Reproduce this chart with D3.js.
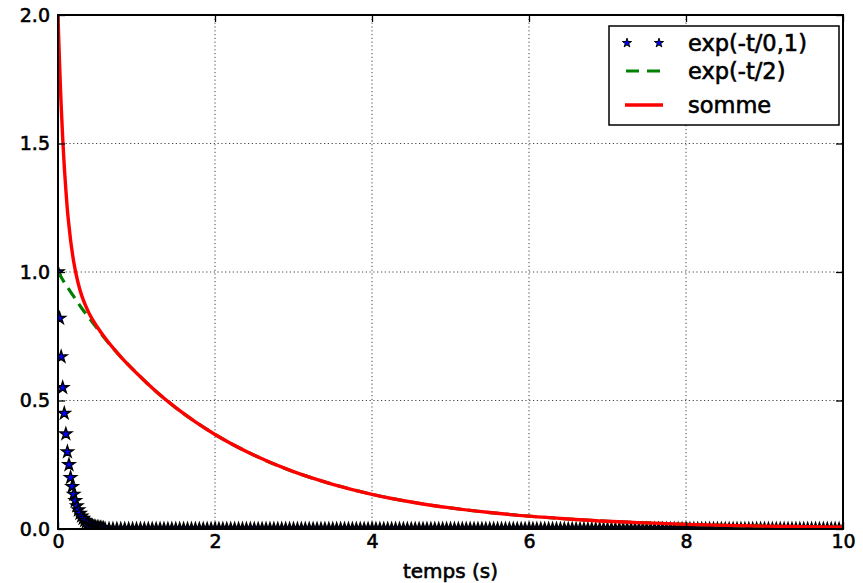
<!DOCTYPE html>
<html>
<head>
<meta charset="utf-8">
<script src="https://cdn.jsdelivr.net/npm/d3@7"></script>
<style>
  body { margin: 0; background: #fff; }
  svg text { font-family: "DejaVu Sans", sans-serif; fill: #000; stroke: #000; stroke-width: 0.6px; }
</style>
</head>
<body>
<div id="chart"></div>
<script>
// exp(-t/0,1) stars: the decaying part
const starT = [0, 0.02, 0.04, 0.06, 0.08, 0.1, 0.12, 0.14, 0.16, 0.18, 0.2, 0.22, 0.24, 0.26, 0.28,
  0.3, 0.32, 0.34, 0.36, 0.38, 0.4, 0.42, 0.44, 0.46, 0.48, 0.5, 0.52, 0.54, 0.56, 0.58];
const starY = [1.0, 0.82, 0.67, 0.55, 0.45, 0.37, 0.30, 0.25, 0.20, 0.165, 0.135, 0.11, 0.09, 0.074, 0.061,
  0.05, 0.041, 0.033, 0.027, 0.022, 0.018, 0.015, 0.012, 0.01, 0.008, 0.007, 0.006, 0.005, 0.004, 0.003];
// the rest of the stars all sit on 0.0
const starTailT = [0.6, 0.65, 0.7, 0.75, 0.8, 0.85, 0.9, 0.95, 1,
  1.05, 1.1, 1.15, 1.2, 1.25, 1.3, 1.35, 1.4, 1.45, 1.5, 1.55, 1.6, 1.65, 1.7, 1.75, 1.8, 1.85, 1.9, 1.95, 2,
  2.05, 2.1, 2.15, 2.2, 2.25, 2.3, 2.35, 2.4, 2.45, 2.5, 2.55, 2.6, 2.65, 2.7, 2.75, 2.8, 2.85, 2.9, 2.95, 3,
  3.05, 3.1, 3.15, 3.2, 3.25, 3.3, 3.35, 3.4, 3.45, 3.5, 3.55, 3.6, 3.65, 3.7, 3.75, 3.8, 3.85, 3.9, 3.95, 4,
  4.05, 4.1, 4.15, 4.2, 4.25, 4.3, 4.35, 4.4, 4.45, 4.5, 4.55, 4.6, 4.65, 4.7, 4.75, 4.8, 4.85, 4.9, 4.95, 5,
  5.05, 5.1, 5.15, 5.2, 5.25, 5.3, 5.35, 5.4, 5.45, 5.5, 5.55, 5.6, 5.65, 5.7, 5.75, 5.8, 5.85, 5.9, 5.95, 6,
  6.05, 6.1, 6.15, 6.2, 6.25, 6.3, 6.35, 6.4, 6.45, 6.5, 6.55, 6.6, 6.65, 6.7, 6.75, 6.8, 6.85, 6.9, 6.95, 7,
  7.05, 7.1, 7.15, 7.2, 7.25, 7.3, 7.35, 7.4, 7.45, 7.5, 7.55, 7.6, 7.65, 7.7, 7.75, 7.8, 7.85, 7.9, 7.95, 8,
  8.05, 8.1, 8.15, 8.2, 8.25, 8.3, 8.35, 8.4, 8.45, 8.5, 8.55, 8.6, 8.65, 8.7, 8.75, 8.8, 8.85, 8.9, 8.95, 9,
  9.05, 9.1, 9.15, 9.2, 9.25, 9.3, 9.35, 9.4, 9.45, 9.5, 9.55, 9.6, 9.65, 9.7, 9.75, 9.8, 9.85, 9.9, 9.95, 10];

// exp(-t/2) dashed
const slowT = [0, 0.1, 0.2, 0.3, 0.4, 0.5, 0.6, 0.8, 1, 1.25, 1.5, 1.75, 2, 2.5, 3, 3.5, 4, 4.5,
  5, 5.5, 6, 6.5, 7, 7.5, 8, 8.5, 9, 9.5, 10];
const slowY = [1.0, 0.95, 0.905, 0.86, 0.82, 0.78, 0.74, 0.67, 0.607, 0.535, 0.472, 0.417, 0.368, 0.287,
  0.223, 0.174, 0.135, 0.105, 0.082, 0.064, 0.05, 0.039, 0.03, 0.024, 0.018, 0.014, 0.011, 0.009, 0.007];

// somme
const sumT = [0, 0.01, 0.02, 0.03, 0.04, 0.06, 0.08, 0.1, 0.12, 0.14, 0.16, 0.18, 0.2, 0.25, 0.3, 0.35,
  0.4, 0.5, 0.6, 0.8, 1, 1.25, 1.5, 1.75, 2, 2.5, 3, 3.5, 4, 4.5, 5, 5.5, 6, 6.5, 7, 7.5, 8, 8.5, 9, 9.5, 10];
const sumY = [2.0, 1.90, 1.81, 1.726, 1.65, 1.52, 1.41, 1.32, 1.24, 1.18, 1.125, 1.08, 1.04, 0.965, 0.91, 0.87,
  0.837, 0.786, 0.743, 0.67, 0.607, 0.535, 0.472, 0.417, 0.368, 0.287, 0.223, 0.174, 0.135, 0.105,
  0.082, 0.064, 0.05, 0.039, 0.03, 0.024, 0.018, 0.014, 0.011, 0.009, 0.007];

const xTicks = [0, 2, 4, 6, 8, 10];
const yTicks = [0, 0.5, 1.0, 1.5, 2.0];
const legendLabels = ["exp(-t/0,1)", "exp(-t/2)", "somme"];

const W = 863, H = 583;
const margin = { top: 15, right: 20, bottom: 54, left: 58 },
    width = W - margin.left - margin.right,
    height = H - margin.top - margin.bottom;

const svg = d3.select("#chart").append("svg")
    .attr("width", W).attr("height", H);

const g = svg.append("g")
    .attr("transform", "translate(" + margin.left + "," + margin.top + ")");

const x = d3.scaleLinear().domain([0, 10]).range([0, width]);
const y = d3.scaleLinear().domain([0, 2]).range([height, 0]);

g.append("clipPath").attr("id", "clip")
  .append("rect").attr("width", width).attr("height", height);

// grid, dotted
g.append("g").selectAll("line").data(xTicks.slice(1, -1)).enter().append("line")
    .attr("x1", d => x(d)).attr("x2", d => x(d)).attr("y1", 0).attr("y2", height)
    .attr("stroke", "#444").attr("stroke-width", 1).attr("stroke-dasharray", "1.2,2.6");
g.append("g").selectAll("line").data(yTicks.slice(1, -1)).enter().append("line")
    .attr("y1", d => y(d)).attr("y2", d => y(d)).attr("x1", 0).attr("x2", width)
    .attr("stroke", "#444").attr("stroke-width", 1).attr("stroke-dasharray", "1.2,2.6");

const plot = g.append("g").attr("clip-path", "url(#clip)");

// stars
const star = d3.symbol().type(d3.symbolStar).size(44);
const starPts = starT.map((t, i) => [t, starY[i]]).concat(starTailT.map(t => [t, 0]));
plot.append("g").selectAll("path").data(starPts).enter().append("path")
    .attr("d", star)
    .attr("transform", d => "translate(" + x(d[0]) + "," + y(d[1]) + ")")
    .attr("fill", "#0000ff").attr("stroke", "#000").attr("stroke-width", 1.4);

const line = d3.line().x(d => x(d[0])).y(d => y(d[1])).curve(d3.curveMonotoneX);

plot.append("path")
    .datum(slowT.map((t, i) => [t, slowY[i]]))
    .attr("d", line).attr("fill", "none")
    .attr("stroke", "#008000").attr("stroke-width", 3.2).attr("stroke-dasharray", "12,7");

plot.append("path")
    .datum(sumT.map((t, i) => [t, sumY[i]]))
    .attr("d", line).attr("fill", "none")
    .attr("stroke", "#ff0000").attr("stroke-width", 3.4);

// axes with inward ticks on all four sides
const tickLen = 7;
g.append("g").attr("transform", "translate(0," + height + ")")
    .call(d3.axisBottom(x).tickValues(xTicks).tickFormat(d3.format("d")).tickSizeInner(-tickLen).tickSizeOuter(0).tickPadding(6));
g.append("g")
    .call(d3.axisTop(x).tickValues(xTicks).tickFormat("").tickSizeInner(-tickLen).tickSizeOuter(0));
g.append("g")
    .call(d3.axisLeft(y).tickValues(yTicks).tickFormat(d3.format(".1f")).tickSizeInner(-tickLen).tickSizeOuter(0).tickPadding(8));
g.append("g").attr("transform", "translate(" + width + ",0)")
    .call(d3.axisRight(y).tickValues(yTicks).tickFormat("").tickSizeInner(-tickLen).tickSizeOuter(0));

g.selectAll(".domain").remove();
g.selectAll(".tick line").attr("stroke", "#000").attr("stroke-width", 1.3);
g.selectAll(".tick text").style("font-size", "19px");

g.append("rect").attr("width", width).attr("height", height)
    .attr("fill", "none").attr("stroke", "#000").attr("stroke-width", 2);

// x label
svg.append("text")
    .attr("x", margin.left + width / 2).attr("y", 578)
    .attr("text-anchor", "middle").style("font-size", "20px")
    .text("temps (s)");

// legend
const lg = svg.append("g").attr("transform", "translate(609,26)");
lg.append("rect").attr("width", 230).attr("height", 99)
    .attr("fill", "#fff").attr("stroke", "#000").attr("stroke-width", 1.5);
const rowY = [17, 45, 79];
const legendStar = d3.symbol().type(d3.symbolStar).size(26);
lg.selectAll("path.ls").data([18, 50]).enter().append("path")
    .attr("d", legendStar).attr("transform", d => "translate(" + d + "," + rowY[0] + ")")
    .attr("fill", "#0000ff").attr("stroke", "#000").attr("stroke-width", 1);
lg.append("line").attr("x1", 17).attr("x2", 52).attr("y1", rowY[1]).attr("y2", rowY[1])
    .attr("stroke", "#008000").attr("stroke-width", 3.2).attr("stroke-dasharray", "13,8");
lg.append("line").attr("x1", 16).attr("x2", 54).attr("y1", rowY[2]).attr("y2", rowY[2])
    .attr("stroke", "#ff0000").attr("stroke-width", 3.4);
lg.selectAll("text").data(legendLabels).enter().append("text")
    .attr("x", 79).attr("y", (d, i) => rowY[i]).attr("dy", "0.35em")
    .style("font-size", "22.5px").text(d => d);
</script>
</body>
</html>
